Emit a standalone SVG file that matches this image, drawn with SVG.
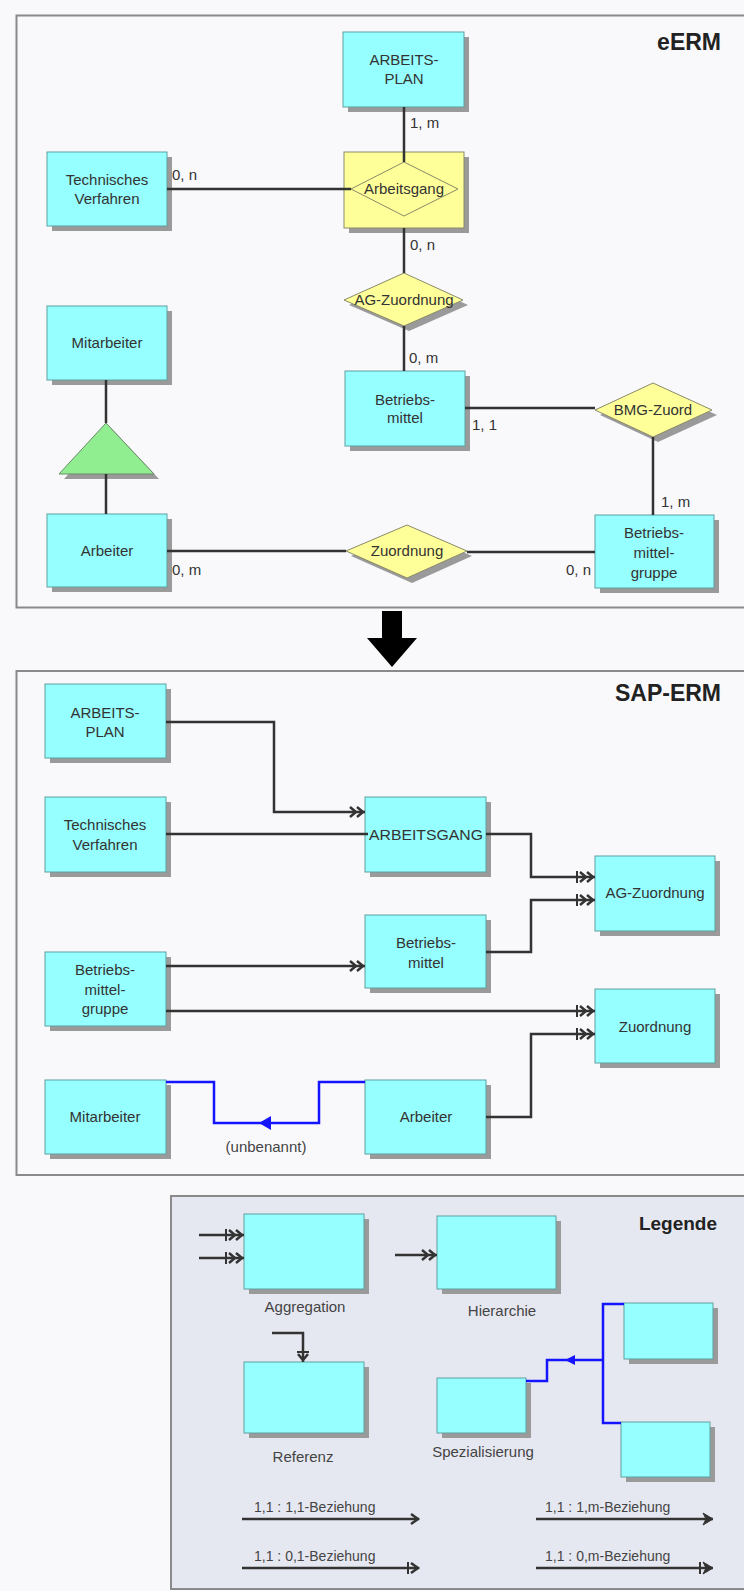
<svg xmlns="http://www.w3.org/2000/svg" width="744" height="1591" viewBox="0 0 744 1591">
<style>
.bg{fill:#f9f9fc}
.panel{fill:#f9f9fc;stroke:#8a8a8a;stroke-width:2}
.legend{fill:#e6e8f1;stroke:#8a8a8a;stroke-width:2}
.ent{fill:#96ffff;stroke:#5f9f9f;stroke-width:1}
.sh{fill:#9a9a9a}
.rel{fill:#ffff99;stroke:#8a8a6a;stroke-width:1}
.tri{fill:#90ee90;stroke:#6a8a6a;stroke-width:1}
.t{font-family:"Liberation Sans",Arial,sans-serif;font-size:15px;fill:#333;text-anchor:middle}
.lbl{font-family:"Liberation Sans",Arial,sans-serif;font-size:15px;fill:#333}
.small{font-family:"Liberation Sans",Arial,sans-serif;font-size:15px;fill:#444;text-anchor:middle}
.leg{font-family:"Liberation Sans",Arial,sans-serif;font-size:14px;fill:#444}
.title{font-family:"Liberation Sans",Arial,sans-serif;font-weight:bold;font-size:23px;fill:#222;text-anchor:end}
.ln{stroke:#333;stroke-width:2.5;fill:none}
.bl{stroke:#1414ff;stroke-width:2.5;fill:none}
</style>
<defs>
<marker id="hier" markerUnits="userSpaceOnUse" markerWidth="22" markerHeight="16" viewBox="-20 -8 22 16" refX="0" refY="0" orient="auto" overflow="visible">
<path d="M-15,-5 L-9,0 L-15,5 M-8,-5 L-2,0 L-8,5" fill="none" stroke="#333" stroke-width="2.5"/>
</marker>
<marker id="aggr" markerUnits="userSpaceOnUse" markerWidth="24" markerHeight="16" viewBox="-22 -8 24 16" refX="0" refY="0" orient="auto" overflow="visible">
<path d="M-18,-6 V6" fill="none" stroke="#333" stroke-width="2"/>
<path d="M-15,-5 L-9,0 L-15,5 M-8,-5 L-2,0 L-8,5" fill="none" stroke="#333" stroke-width="2.5"/>
</marker>
<marker id="ref" markerUnits="userSpaceOnUse" markerWidth="20" markerHeight="16" viewBox="-18 -8 20 16" refX="0" refY="0" orient="auto" overflow="visible">
<path d="M-10,-6 V6" fill="none" stroke="#333" stroke-width="2"/>
<path d="M-8,-5 L-2,0 L-8,5" fill="none" stroke="#333" stroke-width="2.5"/>
</marker>
<marker id="open" markerUnits="userSpaceOnUse" markerWidth="14" markerHeight="14" viewBox="-12 -7 14 14" refX="0" refY="0" orient="auto" overflow="visible">
<path d="M-8,-5 L-1,0 L-8,5" fill="none" stroke="#333" stroke-width="2.5"/>
</marker>
<marker id="bold" markerUnits="userSpaceOnUse" markerWidth="14" markerHeight="14" viewBox="-12 -7 14 14" refX="0" refY="0" orient="auto" overflow="visible">
<path d="M-10,-6 L0,0 L-10,6 L-7,0 Z" fill="#333" stroke="#333" stroke-width="1"/>
</marker>
<marker id="zero1" markerUnits="userSpaceOnUse" markerWidth="16" markerHeight="14" viewBox="-14 -7 16 14" refX="0" refY="0" orient="auto" overflow="visible">
<path d="M-11,-6 V6" fill="none" stroke="#333" stroke-width="2"/>
<path d="M-8,-5 L-1,0 L-8,5" fill="none" stroke="#333" stroke-width="2.5"/>
</marker>
<marker id="zerom" markerUnits="userSpaceOnUse" markerWidth="18" markerHeight="14" viewBox="-16 -7 18 14" refX="0" refY="0" orient="auto" overflow="visible">
<path d="M-13,-6 V6" fill="none" stroke="#333" stroke-width="2"/>
<path d="M-10,-6 L0,0 L-10,6 L-7,0 Z" fill="#333" stroke="#333" stroke-width="1"/>
</marker>
</defs>

<rect class="bg" x="0" y="0" width="744" height="1591"/>

<!-- Panels -->
<g id="panel-eerm">
<rect class="panel" x="16.5" y="15.5" width="760" height="592"/>
<text class="title" x="721" y="50">eERM</text>
</g>
<g id="panel-sap">
<rect class="panel" x="16.5" y="671" width="760" height="504"/>
<text class="title" x="721" y="701">SAP-ERM</text>
</g>
<g id="panel-legend">
<rect class="legend" x="171" y="1196" width="600" height="393"/>
<text class="title" x="717" y="1230" style="font-size:19px">Legende</text>
</g>

<!-- Transformation arrow -->
<g id="big-arrow">
<polygon points="382,611 402,611 402,638 417,638 392,667 367,638 382,638" fill="#000"/>
</g>

<!-- eERM nodes -->
<g id="e-arbeitsplan">
<rect class="sh" x="348" y="37" width="121" height="75"/>
<rect class="ent" x="343" y="32" width="121" height="75"/>
<text class="t" x="404" y="65">ARBEITS-</text>
<text class="t" x="404" y="84">PLAN</text>
</g>
<g id="e-techverf">
<rect class="sh" x="52" y="157" width="120" height="74"/>
<rect class="ent" x="47" y="152" width="120" height="74"/>
<text class="t" x="107" y="185">Technisches</text>
<text class="t" x="107" y="204">Verfahren</text>
</g>
<g id="e-arbeitsgang">
<rect class="sh" x="349" y="157" width="120" height="76"/>
<rect class="rel" x="344" y="152" width="120" height="76"/>
<polygon class="rel" points="351,189 404,162 458,189 404,216"/>
<text class="t" x="404" y="194">Arbeitsgang</text>
</g>
<g id="e-agzuordnung">
<polygon class="sh" points="349,305 409,278 468,305 409,331"/>
<polygon class="rel" points="344,300 404,273 463,300 404,326"/>
<text class="t" x="404" y="305">AG-Zuordnung</text>
</g>
<g id="e-mitarbeiter">
<rect class="sh" x="52" y="311" width="120" height="74"/>
<rect class="ent" x="47" y="306" width="120" height="74"/>
<text class="t" x="107" y="348">Mitarbeiter</text>
</g>
<g id="e-spez">
<polygon class="sh" points="111,428 64,479 159,479"/>
<polygon class="tri" points="106,423 59,474 154,474"/>
</g>
<g id="e-arbeiter">
<rect class="sh" x="52" y="519" width="120" height="73"/>
<rect class="ent" x="47" y="514" width="120" height="73"/>
<text class="t" x="107" y="556">Arbeiter</text>
</g>
<g id="e-betriebsmittel">
<rect class="sh" x="350" y="376" width="120" height="75"/>
<rect class="ent" x="345" y="371" width="120" height="75"/>
<text class="t" x="405" y="405">Betriebs-</text>
<text class="t" x="405" y="423">mittel</text>
</g>
<g id="e-bmgzuord">
<polygon class="sh" points="600,415 658,388 717,415 658,442"/>
<polygon class="rel" points="595,410 653,383 712,410 653,437"/>
<text class="t" x="653" y="415">BMG-Zuord</text>
</g>
<g id="e-zuordnung">
<polygon class="sh" points="351,556 412,530 472,556 412,583"/>
<polygon class="rel" points="346,551 407,525 467,551 407,578"/>
<text class="t" x="407" y="556">Zuordnung</text>
</g>
<g id="e-bmg">
<rect class="sh" x="600" y="520" width="119" height="73"/>
<rect class="ent" x="595" y="515" width="119" height="73"/>
<text class="t" x="654" y="538">Betriebs-</text>
<text class="t" x="654" y="558">mittel-</text>
<text class="t" x="654" y="578">gruppe</text>
</g>

<!-- eERM connectors -->
<g id="e-connectors">
<path class="ln" d="M404,107 V162"/>
<path class="ln" d="M167,189 H351"/>
<path class="ln" d="M404,228 V273"/>
<path class="ln" d="M404,326 V371"/>
<path class="ln" d="M465,408 H595"/>
<path class="ln" d="M653,437 V515"/>
<path class="ln" d="M167,551 H346"/>
<path class="ln" d="M467,552 H595"/>
<path class="ln" d="M106,380 V423"/>
<path class="ln" d="M106,474 V514"/>
<text class="lbl" x="410" y="128">1, m</text>
<text class="lbl" x="172" y="180">0, n</text>
<text class="lbl" x="410" y="250">0, n</text>
<text class="lbl" x="409" y="363">0, m</text>
<text class="lbl" x="472" y="430">1, 1</text>
<text class="lbl" x="661" y="507">1, m</text>
<text class="lbl" x="172" y="575">0, m</text>
<text class="lbl" x="591" y="575" text-anchor="end">0, n</text>
</g>

<!-- SAP-ERM nodes -->
<g id="s-arbeitsplan">
<rect class="sh" x="50" y="689" width="121" height="74"/>
<rect class="ent" x="45" y="684" width="121" height="74"/>
<text class="t" x="105" y="718">ARBEITS-</text>
<text class="t" x="105" y="737">PLAN</text>
</g>
<g id="s-techverf">
<rect class="sh" x="50" y="802" width="121" height="75"/>
<rect class="ent" x="45" y="797" width="121" height="75"/>
<text class="t" x="105" y="830">Technisches</text>
<text class="t" x="105" y="850">Verfahren</text>
</g>
<g id="s-arbeitsgang">
<rect class="sh" x="370" y="802" width="121" height="75"/>
<rect class="ent" x="365" y="797" width="121" height="75"/>
<text class="t" x="426" y="840" textLength="114" lengthAdjust="spacingAndGlyphs">ARBEITSGANG</text>
</g>
<g id="s-agzuordnung">
<rect class="sh" x="600" y="861" width="120" height="75"/>
<rect class="ent" x="595" y="856" width="120" height="75"/>
<text class="t" x="655" y="898">AG-Zuordnung</text>
</g>
<g id="s-betriebsmittel">
<rect class="sh" x="370" y="920" width="121" height="73"/>
<rect class="ent" x="365" y="915" width="121" height="73"/>
<text class="t" x="426" y="948">Betriebs-</text>
<text class="t" x="426" y="968">mittel</text>
</g>
<g id="s-bmg">
<rect class="sh" x="50" y="957" width="121" height="74"/>
<rect class="ent" x="45" y="952" width="121" height="74"/>
<text class="t" x="105" y="975">Betriebs-</text>
<text class="t" x="105" y="995">mittel-</text>
<text class="t" x="105" y="1014">gruppe</text>
</g>
<g id="s-zuordnung">
<rect class="sh" x="600" y="994" width="120" height="74"/>
<rect class="ent" x="595" y="989" width="120" height="74"/>
<text class="t" x="655" y="1032">Zuordnung</text>
</g>
<g id="s-mitarbeiter">
<rect class="sh" x="50" y="1085" width="121" height="74"/>
<rect class="ent" x="45" y="1080" width="121" height="74"/>
<text class="t" x="105" y="1122">Mitarbeiter</text>
</g>
<g id="s-arbeiter">
<rect class="sh" x="370" y="1085" width="121" height="74"/>
<rect class="ent" x="365" y="1080" width="121" height="74"/>
<text class="t" x="426" y="1122">Arbeiter</text>
</g>

<!-- SAP-ERM connectors -->
<g id="s-connectors">
<path class="ln" d="M166,722 H274 V812 H365" marker-end="url(#hier)"/>
<path class="ln" d="M166,834 H368"/>
<path class="ln" d="M486,834 H531 V877 H595" marker-end="url(#aggr)"/>
<path class="ln" d="M486,952 H531 V900 H595" marker-end="url(#aggr)"/>
<path class="ln" d="M166,966 H365" marker-end="url(#hier)"/>
<path class="ln" d="M166,1011 H595" marker-end="url(#aggr)"/>
<path class="ln" d="M486,1117 H531 V1034 H595" marker-end="url(#aggr)"/>
<path class="bl" d="M166,1082 H214 V1123 H319 V1082 H365"/>
<polygon points="259,1123 271,1116 271,1130" fill="#1414ff"/>
<text class="small" x="266" y="1152">(unbenannt)</text>
</g>

<!-- Legend -->
<g id="l-aggregation">
<rect class="sh" x="249" y="1219" width="120" height="75"/>
<rect class="ent" x="244" y="1214" width="120" height="75"/>
<path class="ln" d="M199,1235 H244" marker-end="url(#aggr)"/>
<path class="ln" d="M199,1258 H244" marker-end="url(#aggr)"/>
<text class="small" x="305" y="1312">Aggregation</text>
</g>
<g id="l-hierarchie">
<rect class="sh" x="442" y="1221" width="119" height="73"/>
<rect class="ent" x="437" y="1216" width="119" height="73"/>
<path class="ln" d="M395,1255 H437" marker-end="url(#hier)"/>
<text class="small" x="502" y="1316">Hierarchie</text>
</g>
<g id="l-referenz">
<rect class="sh" x="249" y="1367" width="120" height="71"/>
<rect class="ent" x="244" y="1362" width="120" height="71"/>
<path class="ln" d="M272,1333 H303 V1362" marker-end="url(#ref)"/>
<text class="small" x="303" y="1462">Referenz</text>
</g>
<g id="l-spezialisierung">
<rect class="sh" x="442" y="1383" width="89" height="55"/>
<rect class="ent" x="437" y="1378" width="89" height="55"/>
<rect class="sh" x="629" y="1308" width="89" height="56"/>
<rect class="ent" x="624" y="1303" width="89" height="56"/>
<rect class="sh" x="626" y="1427" width="89" height="55"/>
<rect class="ent" x="621" y="1422" width="89" height="55"/>
<path class="bl" d="M526,1381 H547 V1360 H603"/>
<path class="bl" d="M624,1304 H603 V1423 H621"/>
<polygon points="565,1360 575,1355 575,1365" fill="#1414ff"/>
<text class="small" x="483" y="1457">Spezialisierung</text>
</g>
<g id="l-cardinalities">
<path class="ln" d="M242,1519 H419" marker-end="url(#open)"/>
<text class="leg" x="254" y="1512">1,1 : 1,1-Beziehung</text>
<path class="ln" d="M536,1519 H713" marker-end="url(#bold)"/>
<text class="leg" x="545" y="1512">1,1 : 1,m-Beziehung</text>
<path class="ln" d="M242,1568 H419" marker-end="url(#zero1)"/>
<text class="leg" x="254" y="1561">1,1 : 0,1-Beziehung</text>
<path class="ln" d="M536,1568 H713" marker-end="url(#zerom)"/>
<text class="leg" x="545" y="1561">1,1 : 0,m-Beziehung</text>
</g>
</svg>
